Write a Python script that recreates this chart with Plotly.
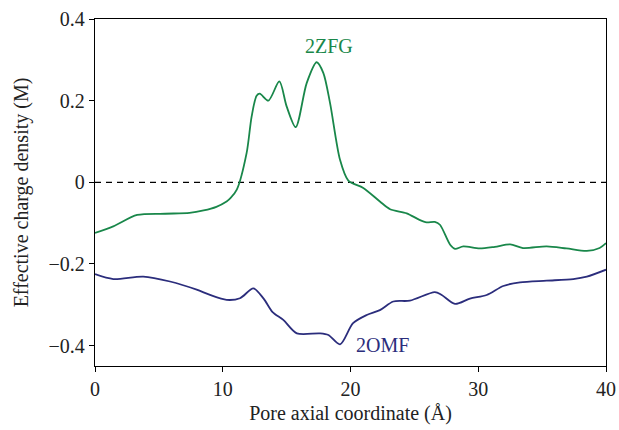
import plotly.graph_objects as go

# 2ZFG series
x_zfg = [0, 1.43, 3.3, 5.5, 7.4, 8.5, 9.5, 10.3, 10.6, 11.1, 11.87, 12.26, 12.65, 12.9, 13.57,
         14.43, 15.0, 15.71, 16.57, 17.35, 17.87, 18.4, 19.18, 19.83, 21.0, 22.3, 23.1, 24.4,
         25.4, 25.96, 26.6, 27.0, 27.8, 28.18, 28.83, 30.1, 31.3, 32.5, 33.5, 35.35, 36.9,
         38.5, 39.5, 40]
y_zfg = [-0.124, -0.108, -0.08, -0.077, -0.075, -0.069, -0.06, -0.047, -0.039, -0.018, 0.072,
         0.161, 0.212, 0.217, 0.2, 0.247, 0.186, 0.135, 0.243, 0.294, 0.268, 0.194, 0.055,
         0.004, -0.014, -0.047, -0.066, -0.076, -0.092, -0.098, -0.097, -0.104, -0.153,
         -0.163, -0.157, -0.162, -0.158, -0.152, -0.161, -0.157, -0.162, -0.168, -0.161, -0.149]

# 2OMF series
x_omf = [0, 1.43, 3.78, 5.87, 7.96, 9.0, 10.3, 11.35, 12.4, 13.2, 13.9, 14.74, 15.8, 17.6,
         18.27, 19.18, 20.2, 21.27, 22.3, 23.35, 24.65, 26.6, 27.14, 28.18, 29.35, 30.66,
         31.96, 33.27, 35.35, 37.44, 38.5, 40]
y_omf = [-0.225, -0.237, -0.231, -0.243, -0.263, -0.276, -0.288, -0.284, -0.26, -0.285, -0.318,
         -0.337, -0.37, -0.37, -0.374, -0.397, -0.345, -0.325, -0.313, -0.292, -0.29, -0.269,
         -0.276, -0.298, -0.285, -0.276, -0.254, -0.245, -0.241, -0.237, -0.231, -0.214]

x_ticks = [0, 10, 20, 30, 40]
y_ticks = [-0.4, -0.2, 0, 0.2, 0.4]
y_tick_text = ["\u22120.4", "\u22120.2", "0", "0.2", "0.4"]

green = "#19874a"
blue = "#2b2d7c"
font = "Liberation Serif"

fig = go.Figure()
fig.add_trace(go.Scatter(x=[0, 40], y=[0, 0], mode="lines",
                         line=dict(color="black", width=1.3, dash="6px,5px"),
                         hoverinfo="skip", showlegend=False))
fig.add_trace(go.Scatter(x=x_zfg, y=y_zfg, mode="lines",
                         line=dict(color=green, width=1.8, shape="spline", smoothing=0.8),
                         showlegend=False))
fig.add_trace(go.Scatter(x=x_omf, y=y_omf, mode="lines",
                         line=dict(color=blue, width=1.8, shape="spline", smoothing=0.8),
                         showlegend=False))

fig.add_annotation(x=18.3, y=0.335, text="2ZFG", showarrow=False,
                   font=dict(family=font, size=20, color=green))
fig.add_annotation(x=22.5, y=-0.398, text="2OMF", showarrow=False,
                   font=dict(family=font, size=20, color=blue))

axis_common = dict(showgrid=False, zeroline=False, showline=True, linecolor="black",
                   linewidth=1.3, mirror=True, ticks="outside", ticklen=5,
                   tickcolor="black", tickwidth=1.3, automargin=False,
                   tickfont=dict(family=font, size=20, color="#222"))

fig.update_xaxes(range=[0, 40], tickvals=x_ticks,
                 title=dict(text="Pore axial coordinate (\u00c5)",
                            font=dict(family=font, size=20, color="#222"), standoff=6),
                 **axis_common)
fig.update_yaxes(range=[-0.45, 0.4], tickvals=y_ticks, ticktext=y_tick_text,
                 title=dict(text="Effective charge density (M)",
                            font=dict(family=font, size=20, color="#222"), standoff=14),
                 **axis_common)

fig.update_layout(width=619, height=430, margin=dict(l=95, r=13, t=19, b=64),
                  plot_bgcolor="white", paper_bgcolor="white")

fig.write_html("out.html")
